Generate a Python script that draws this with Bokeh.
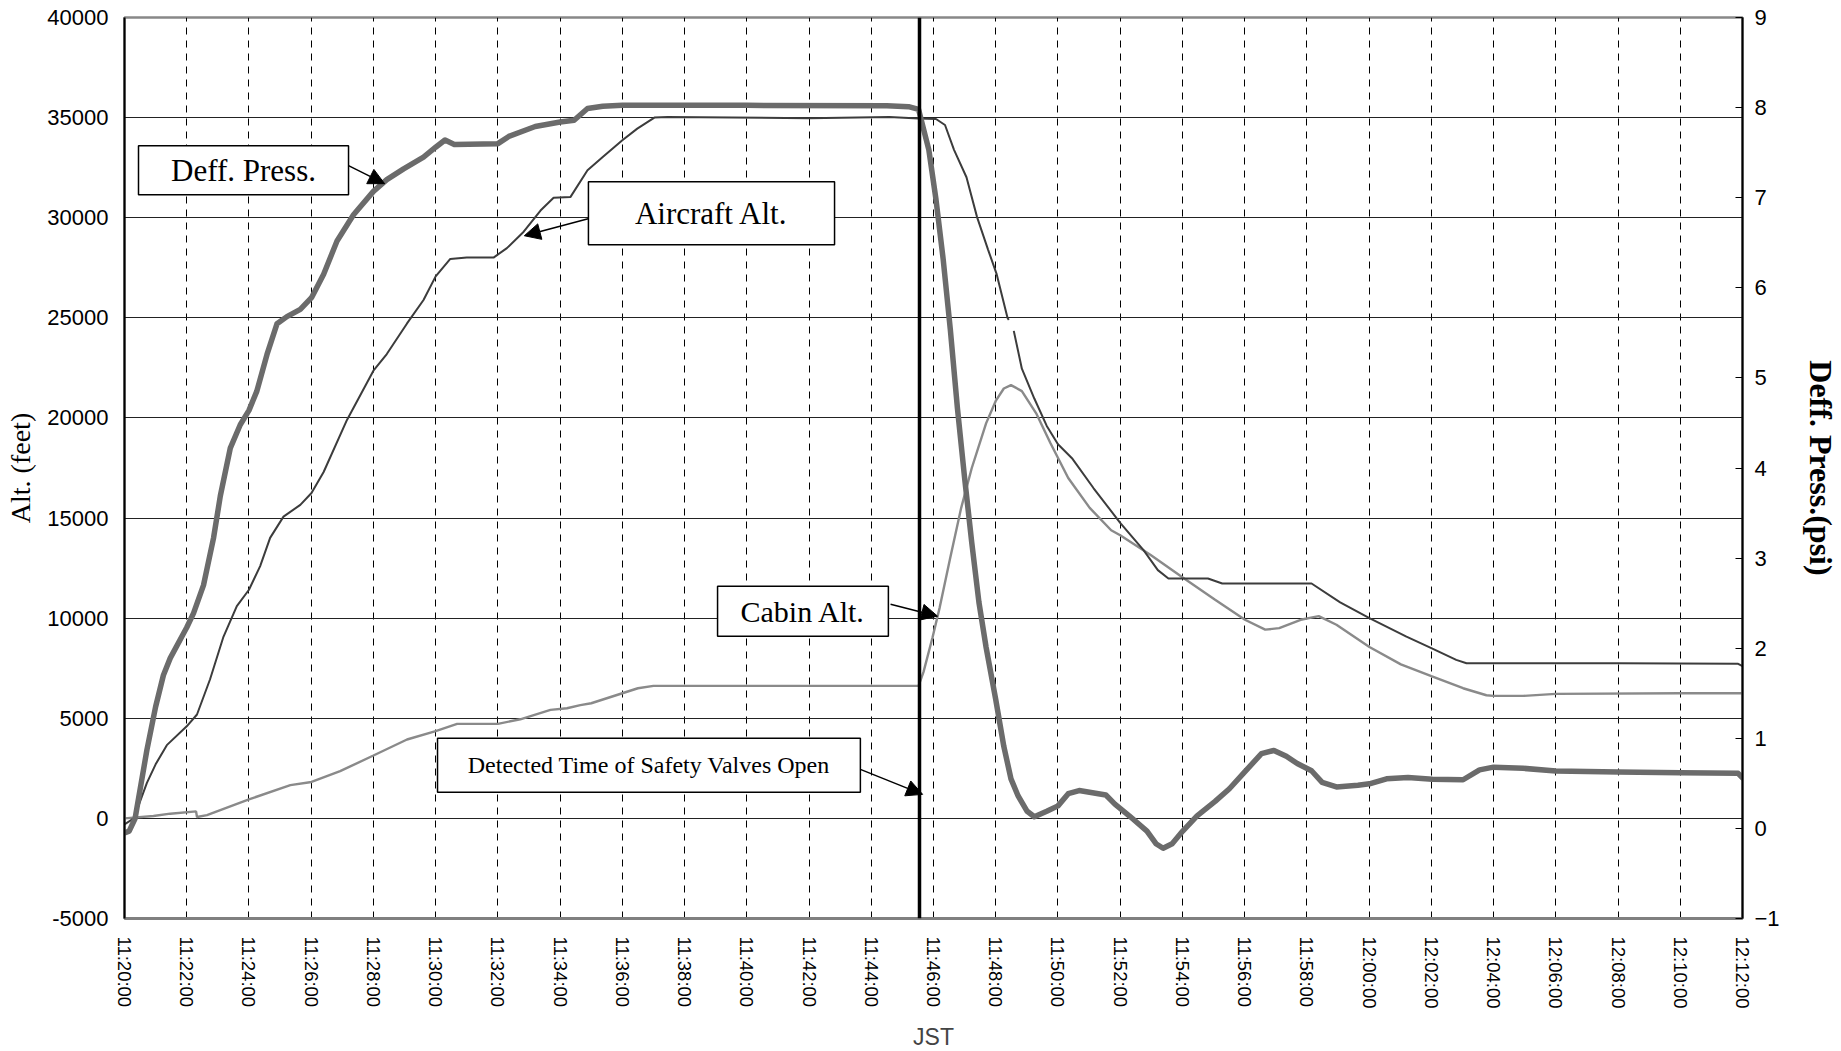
import numpy as np
from bokeh.plotting import figure
from bokeh.models import (Range1d, LinearAxis, FixedTicker, Span, BoxAnnotation,
                          Label, Arrow, NormalHead, PrintfTickFormatter)
from bokeh.embed import file_html
from bokeh.resources import INLINE

# ---- data (time in minutes after 11:20:00 JST) ----
TICK_MIN = [0, 2, 4, 6, 8, 10, 12, 14, 16, 18, 20, 22, 24, 26,
            28, 30, 32, 34, 36, 38, 40, 42, 44, 46, 48, 50, 52]
TICK_LABELS = ["11:20:00", "11:22:00", "11:24:00", "11:26:00", "11:28:00", "11:30:00",
               "11:32:00", "11:34:00", "11:36:00", "11:38:00", "11:40:00", "11:42:00",
               "11:44:00", "11:46:00", "11:48:00", "11:50:00", "11:52:00", "11:54:00",
               "11:56:00", "11:58:00", "12:00:00", "12:02:00", "12:04:00", "12:06:00",
               "12:08:00", "12:10:00", "12:12:00"]
ALT_TICKS = [-5000, 0, 5000, 10000, 15000, 20000, 25000, 30000, 35000, 40000]
PSI_TICKS = [-1, 0, 1, 2, 3, 4, 5, 6, 7, 8, 9]

VALVE_TIME = 25.55  # Detected time of safety valves open

deff_t = [0.0, 0.15, 0.34, 0.72, 1.0, 1.25, 1.47, 2.0, 2.22, 2.54, 2.86, 3.08, 3.40, 3.72,
          4.0, 4.25, 4.58, 4.90, 5.22, 5.65, 6.01, 6.40, 6.83, 7.36, 8.0, 8.43, 8.97, 9.61,
          10.0, 10.3, 10.6, 12.0, 12.35, 13.2, 14.0, 14.45, 14.88, 15.37, 16.0, 20.0, 24.5,
          25.2, 25.52, 25.85, 26.08, 26.31, 26.54, 26.77, 27.0, 27.23, 27.46, 27.69, 28.0,
          28.26, 28.49, 28.72, 29.01, 29.24, 29.64, 30.0, 30.33, 30.68, 31.54, 31.83, 32.29,
          32.86, 33.15, 33.38, 33.67, 34.01, 34.47, 35.05, 35.51, 36.01, 36.54, 36.94, 37.34,
          37.69, 38.15, 38.49, 38.95, 39.64, 40.01, 40.56, 41.25, 42.03, 43.02, 43.55, 44.0,
          44.95, 46.0, 48.0, 50.0, 51.86, 52.0]
deff_psi = [-0.05, -0.03, 0.11, 0.87, 1.35, 1.70, 1.89, 2.23, 2.39, 2.70, 3.22, 3.69, 4.22, 4.48,
            4.64, 4.85, 5.26, 5.60, 5.68, 5.76, 5.89, 6.15, 6.52, 6.81, 7.07, 7.20, 7.32, 7.45,
            7.56, 7.64, 7.59, 7.60, 7.68, 7.79, 7.84, 7.86, 7.99, 8.015, 8.025, 8.025, 8.02,
            8.01, 7.98, 7.53, 6.98, 6.32, 5.54, 4.66, 3.89, 3.17, 2.51, 2.01, 1.43,
            0.91, 0.55, 0.36, 0.19, 0.13, 0.19, 0.25, 0.385, 0.42, 0.37, 0.27, 0.14,
            -0.03, -0.17, -0.22, -0.17, -0.03, 0.14, 0.30, 0.44, 0.63, 0.83, 0.865, 0.80,
            0.72, 0.64, 0.51, 0.46, 0.48, 0.495, 0.55, 0.565, 0.545, 0.54, 0.65, 0.68,
            0.667, 0.637, 0.626, 0.618, 0.611, 0.56]

acft_t = [0.0, 0.3, 0.72, 1.0, 1.36, 2.0, 2.33, 2.75, 3.18, 3.61, 4.0, 4.36, 4.68, 5.11, 5.65,
          6.01, 6.40, 7.15, 8.0, 8.43, 9.08, 9.61, 10.0, 10.47, 11.0, 11.86, 12.29, 12.83,
          13.37, 13.79, 14.33, 14.88, 15.37, 16.0, 16.48, 17.03, 17.46, 22.0, 24.58, 25.52,
          26.08, 26.37, 26.66, 27.06, 27.40, 27.75, 28.03, 28.38, 28.42, 28.5, 28.58, 28.84,
          29.24, 29.64, 30.0, 30.45, 31.14, 32.0, 32.75, 33.21, 33.55, 34.82, 35.28, 38.15,
          39.07, 40.01, 41.2, 42.0, 42.8, 43.13, 48.0, 51.86, 52.0]
acft_ft = [-300, 0, 1776, 2700, 3658, 4600, 5190, 6950, 9070, 10600, 11420, 12600, 14010, 15070,
           15660, 16250, 17300, 19900, 22360, 23190, 24720, 25890, 27070, 27940, 28010, 28010,
           28480, 29300, 30360, 31000, 31030, 32370, 33030, 33870, 34450, 35000, 35030, 34970,
           35030, 34950, 34930, 34630, 33390, 32020, 30030, 28420, 27180, 24990, 24900,
           float("nan"), 24350, 22460, 20970, 19600, 18690, 17990, 16500, 14760, 13400, 12400,
           11980, 11980, 11730, 11730, 10790, 10000, 9080, 8500, 7917, 7750, 7750, 7720, 7600]

cabin_t = [0.0, 0.93, 1.47, 2.3, 2.33, 2.65, 4.0, 5.33, 6.01, 6.93, 8.0, 9.08, 10.0, 10.69, 12.0,
           12.72, 13.69, 14.22, 14.65, 15.0, 16.0, 16.5, 17.0, 25.52, 25.68, 25.97, 26.2, 26.54,
           26.89, 27.23, 27.69, 28.0, 28.26, 28.49, 28.84, 29.3, 29.76, 30.33, 31.02, 31.71,
           32.0, 32.98, 34.01, 35.05, 36.01, 36.66, 37.11, 37.8, 38.38, 38.95, 40.01, 41.02,
           42.0, 43.02, 43.77, 44.0, 44.95, 46.0, 50.0, 52.0]
cabin_ft = [0, 120, 235, 350, 70, 165, 950, 1660, 1820, 2360, 3140, 3940, 4360, 4720, 4720,
            4950, 5420, 5500, 5660, 5750, 6250, 6500, 6620, 6620, 7315, 9050, 10540, 13030,
            15510, 17500, 19730, 20850, 21470, 21640, 21340, 20230, 18740, 17000, 15510, 14390,
            14140, 13150, 12030, 10920, 9920, 9425, 9500, 9920, 10100, 9670, 8560, 7690,
            7100, 6500, 6150, 6117, 6117, 6217, 6250, 6250]

# annotation boxes: (text, left_t, right_t, top_ft, bottom_ft, font px)
BOXES = [("Deff. Press.", 0.45, 7.2, 33600, 31150, "31px"),
         ("Aircraft Alt.", 14.91, 22.82, 31800, 28650, "31px"),
         ("Cabin Alt.", 19.06, 24.55, 11600, 9100, "30px"),
         ("Detected Time of Safety Valves Open", 10.06, 23.65, 4000, 1300, "24px")]
# arrows: (t_start, ft_start, t_end, ft_end)
ARROWS = [(7.2, 32600, 8.36, 31700),
          (14.9, 29950, 12.85, 29100),
          (24.62, 10700, 26.13, 10100),
          (23.65, 2450, 25.65, 1200)]

# ---- figure ----
p = figure(frame_width=1618, frame_height=901, output_backend="svg", toolbar_location=None,
           x_range=Range1d(0, 52), y_range=Range1d(-5000, 40000),
           min_border_left=124, min_border_right=10, min_border_top=17, min_border_bottom=10)
p.extra_y_ranges = {"psi": Range1d(-1, 9)}
p.outline_line_color = "#888888"
p.outline_line_width = 2.5
p.background_fill_color = "white"
p.border_fill_color = "white"

# x axis
xa = p.xaxis[0]
xa.ticker = FixedTicker(ticks=TICK_MIN)
xa.major_label_overrides = {m: lab for m, lab in zip(TICK_MIN, TICK_LABELS)}
xa.major_label_orientation = "vertical"
xa.major_label_text_font = "Liberation Sans"
xa.major_label_text_font_size = "18.5px"
xa.major_label_text_color = "black"
xa.major_label_standoff = 18
xa.major_tick_in = 0
xa.major_tick_out = 0
xa.minor_tick_out = 0
xa.minor_tick_in = 0
xa.axis_line_color = "#808080"
xa.axis_line_width = 3
xa.axis_label = "JST"
xa.axis_label_text_font = "Liberation Sans"
xa.axis_label_text_font_style = "normal"
xa.axis_label_text_font_size = "23px"
xa.axis_label_standoff = 12

# left axis
ya = p.yaxis[0]
ya.ticker = FixedTicker(ticks=ALT_TICKS)
ya.formatter = PrintfTickFormatter(format="%d")
ya.major_label_text_font = "Liberation Sans"
ya.major_label_text_font_size = "22px"
ya.major_label_text_color = "black"
ya.major_label_standoff = 16
ya.major_tick_in = 0
ya.major_tick_out = 0
ya.minor_tick_in = 0
ya.minor_tick_out = 0
ya.axis_line_color = "black"
ya.axis_line_width = 2
ya.axis_label = "Alt. (feet)"
ya.axis_label_text_font = "Liberation Serif"
ya.axis_label_text_font_style = "normal"
ya.axis_label_text_font_size = "28px"
ya.axis_label_text_color = "black"
ya.axis_label_standoff = 8

# right axis
ra = LinearAxis(y_range_name="psi", ticker=FixedTicker(ticks=PSI_TICKS))
ra.major_label_text_font = "Liberation Sans"
ra.major_label_text_font_size = "22px"
ra.major_label_text_color = "black"
ra.major_label_standoff = 12
ra.major_tick_in = 7
ra.major_tick_out = 0
ra.minor_tick_in = 0
ra.minor_tick_out = 0
ra.axis_line_color = "black"
ra.axis_line_width = 2
ra.axis_label = "Deff. Press.(psi)"
ra.axis_label_text_font = "Liberation Serif"
ra.axis_label_text_font_style = "bold"
ra.axis_label_text_font_size = "32px"
ra.axis_label_text_color = "black"
ra.axis_label_standoff = 20
p.add_layout(ra, "right")

# grids
p.ygrid.ticker = FixedTicker(ticks=ALT_TICKS)
p.ygrid.grid_line_color = "#222222"
p.ygrid.grid_line_width = 1
p.xgrid.ticker = FixedTicker(ticks=TICK_MIN)
p.xgrid.grid_line_color = "black"
p.xgrid.grid_line_width = 1
p.xgrid.grid_line_dash = "7 6"

# curves
p.line(cabin_t, cabin_ft, line_color="#8a8a8a", line_width=2.4)
p.line(acft_t, acft_ft, line_color="#3c3c3c", line_width=2.0)
p.line(deff_t, deff_psi, y_range_name="psi", line_color="#6b6b6b", line_width=5.5,
       line_join="round", line_cap="round")

# valve line
p.add_layout(Span(location=VALVE_TIME, dimension="height", line_color="black", line_width=3.5))

# annotations
for text, l, r, t, b, fs in BOXES:
    p.add_layout(BoxAnnotation(left=l, right=r, top=t, bottom=b, fill_color="white",
                               fill_alpha=1.0, line_color="black", line_width=1.5,
                               line_alpha=1.0, level="overlay"))
    p.add_layout(Label(x=(l + r) / 2, y=(t + b) / 2, text=text, text_align="center",
                       text_baseline="middle", text_font="Liberation Serif",
                       text_font_size=fs, text_color="black", level="overlay"))
for x0, y0, x1, y1 in ARROWS:
    p.add_layout(Arrow(end=NormalHead(size=16, fill_color="black", line_color="black"),
                       x_start=x0, y_start=y0, x_end=x1, y_end=y1,
                       line_color="black", line_width=1.5, level="overlay"))

open("out.html", "w").write(file_html(p, INLINE))
